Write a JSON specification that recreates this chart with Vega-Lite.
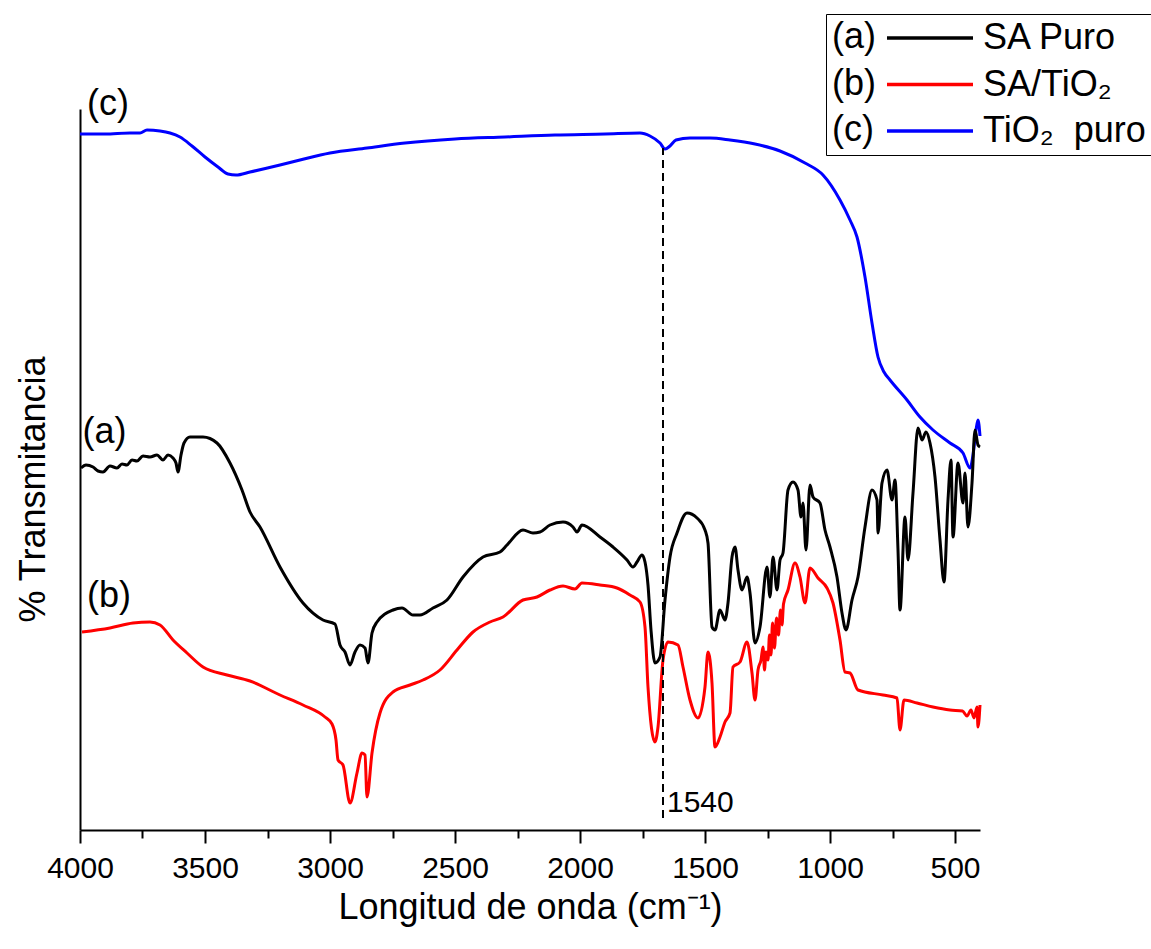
{
  "$schema": "https://vega.github.io/schema/vega-lite/v6.json",
  "width": 900,
  "height": 721,
  "autosize": {"type": "none"},
  "padding": {"left": 80, "top": 109, "right": 171, "bottom": 119},
  "background": "white",
  "config": {
    "view": {"stroke": null},
    "font": "Liberation Sans",
    "text": {"font": "Liberation Sans"}
  },
  "datasets": {
    "spectra": [
      {"serie": "TiO₂  puro", "wn": 4000, "t": 696},
      {"serie": "TiO₂  puro", "wn": 3900, "t": 696},
      {"serie": "TiO₂  puro", "wn": 3800, "t": 697},
      {"serie": "TiO₂  puro", "wn": 3760, "t": 697},
      {"serie": "TiO₂  puro", "wn": 3732, "t": 700},
      {"serie": "TiO₂  puro", "wn": 3680, "t": 699},
      {"serie": "TiO₂  puro", "wn": 3640, "t": 697},
      {"serie": "TiO₂  puro", "wn": 3600, "t": 693},
      {"serie": "TiO₂  puro", "wn": 3552, "t": 684},
      {"serie": "TiO₂  puro", "wn": 3500, "t": 673},
      {"serie": "TiO₂  puro", "wn": 3448, "t": 663},
      {"serie": "TiO₂  puro", "wn": 3408, "t": 656},
      {"serie": "TiO₂  puro", "wn": 3376, "t": 655},
      {"serie": "TiO₂  puro", "wn": 3320, "t": 658},
      {"serie": "TiO₂  puro", "wn": 3200, "t": 665},
      {"serie": "TiO₂  puro", "wn": 3120, "t": 670},
      {"serie": "TiO₂  puro", "wn": 3000, "t": 677},
      {"serie": "TiO₂  puro", "wn": 2852, "t": 682},
      {"serie": "TiO₂  puro", "wn": 2700, "t": 687},
      {"serie": "TiO₂  puro", "wn": 2500, "t": 691},
      {"serie": "TiO₂  puro", "wn": 2300, "t": 693},
      {"serie": "TiO₂  puro", "wn": 2100, "t": 695},
      {"serie": "TiO₂  puro", "wn": 1900, "t": 696},
      {"serie": "TiO₂  puro", "wn": 1760, "t": 697},
      {"serie": "TiO₂  puro", "wn": 1720, "t": 694},
      {"serie": "TiO₂  puro", "wn": 1680, "t": 687},
      {"serie": "TiO₂  puro", "wn": 1660, "t": 681},
      {"serie": "TiO₂  puro", "wn": 1640, "t": 684},
      {"serie": "TiO₂  puro", "wn": 1616, "t": 690},
      {"serie": "TiO₂  puro", "wn": 1560, "t": 692},
      {"serie": "TiO₂  puro", "wn": 1480, "t": 692},
      {"serie": "TiO₂  puro", "wn": 1400, "t": 690},
      {"serie": "TiO₂  puro", "wn": 1300, "t": 686},
      {"serie": "TiO₂  puro", "wn": 1200, "t": 679},
      {"serie": "TiO₂  puro", "wn": 1100, "t": 667},
      {"serie": "TiO₂  puro", "wn": 1028, "t": 655},
      {"serie": "TiO₂  puro", "wn": 960, "t": 630},
      {"serie": "TiO₂  puro", "wn": 920, "t": 610},
      {"serie": "TiO₂  puro", "wn": 892, "t": 593},
      {"serie": "TiO₂  puro", "wn": 860, "t": 553},
      {"serie": "TiO₂  puro", "wn": 832, "t": 507},
      {"serie": "TiO₂  puro", "wn": 808, "t": 473},
      {"serie": "TiO₂  puro", "wn": 784, "t": 458},
      {"serie": "TiO₂  puro", "wn": 760, "t": 450},
      {"serie": "TiO₂  puro", "wn": 692, "t": 430},
      {"serie": "TiO₂  puro", "wn": 640, "t": 413},
      {"serie": "TiO₂  puro", "wn": 588, "t": 400},
      {"serie": "TiO₂  puro", "wn": 520, "t": 387},
      {"serie": "TiO₂  puro", "wn": 468, "t": 377},
      {"serie": "TiO₂  puro", "wn": 440, "t": 362},
      {"serie": "TiO₂  puro", "wn": 428, "t": 375},
      {"serie": "TiO₂  puro", "wn": 416, "t": 400},
      {"serie": "TiO₂  puro", "wn": 408, "t": 410},
      {"serie": "TiO₂  puro", "wn": 400, "t": 394},

      {"serie": "SA Puro", "wn": 3996, "t": 362},
      {"serie": "SA Puro", "wn": 3976, "t": 365},
      {"serie": "SA Puro", "wn": 3948, "t": 363},
      {"serie": "SA Puro", "wn": 3928, "t": 359},
      {"serie": "SA Puro", "wn": 3908, "t": 358},
      {"serie": "SA Puro", "wn": 3880, "t": 364},
      {"serie": "SA Puro", "wn": 3852, "t": 362},
      {"serie": "SA Puro", "wn": 3832, "t": 366},
      {"serie": "SA Puro", "wn": 3812, "t": 365},
      {"serie": "SA Puro", "wn": 3792, "t": 370},
      {"serie": "SA Puro", "wn": 3772, "t": 369},
      {"serie": "SA Puro", "wn": 3748, "t": 374},
      {"serie": "SA Puro", "wn": 3720, "t": 373},
      {"serie": "SA Puro", "wn": 3692, "t": 375},
      {"serie": "SA Puro", "wn": 3668, "t": 370},
      {"serie": "SA Puro", "wn": 3648, "t": 375},
      {"serie": "SA Puro", "wn": 3628, "t": 372},
      {"serie": "SA Puro", "wn": 3616, "t": 367},
      {"serie": "SA Puro", "wn": 3608, "t": 358},
      {"serie": "SA Puro", "wn": 3596, "t": 375},
      {"serie": "SA Puro", "wn": 3584, "t": 387},
      {"serie": "SA Puro", "wn": 3560, "t": 393},
      {"serie": "SA Puro", "wn": 3508, "t": 393},
      {"serie": "SA Puro", "wn": 3452, "t": 387},
      {"serie": "SA Puro", "wn": 3400, "t": 367},
      {"serie": "SA Puro", "wn": 3352, "t": 340},
      {"serie": "SA Puro", "wn": 3320, "t": 318},
      {"serie": "SA Puro", "wn": 3280, "t": 303},
      {"serie": "SA Puro", "wn": 3200, "t": 263},
      {"serie": "SA Puro", "wn": 3108, "t": 227},
      {"serie": "SA Puro", "wn": 3028, "t": 210},
      {"serie": "SA Puro", "wn": 2980, "t": 206},
      {"serie": "SA Puro", "wn": 2960, "t": 185},
      {"serie": "SA Puro", "wn": 2940, "t": 178},
      {"serie": "SA Puro", "wn": 2920, "t": 165},
      {"serie": "SA Puro", "wn": 2900, "t": 178},
      {"serie": "SA Puro", "wn": 2880, "t": 185},
      {"serie": "SA Puro", "wn": 2860, "t": 182},
      {"serie": "SA Puro", "wn": 2848, "t": 167},
      {"serie": "SA Puro", "wn": 2832, "t": 197},
      {"serie": "SA Puro", "wn": 2812, "t": 208},
      {"serie": "SA Puro", "wn": 2748, "t": 220},
      {"serie": "SA Puro", "wn": 2712, "t": 222},
      {"serie": "SA Puro", "wn": 2668, "t": 215},
      {"serie": "SA Puro", "wn": 2640, "t": 215},
      {"serie": "SA Puro", "wn": 2588, "t": 222},
      {"serie": "SA Puro", "wn": 2532, "t": 230},
      {"serie": "SA Puro", "wn": 2468, "t": 253},
      {"serie": "SA Puro", "wn": 2388, "t": 273},
      {"serie": "SA Puro", "wn": 2320, "t": 278},
      {"serie": "SA Puro", "wn": 2292, "t": 285},
      {"serie": "SA Puro", "wn": 2228, "t": 300},
      {"serie": "SA Puro", "wn": 2188, "t": 297},
      {"serie": "SA Puro", "wn": 2160, "t": 298},
      {"serie": "SA Puro", "wn": 2120, "t": 305},
      {"serie": "SA Puro", "wn": 2068, "t": 308},
      {"serie": "SA Puro", "wn": 2028, "t": 303},
      {"serie": "SA Puro", "wn": 2012, "t": 298},
      {"serie": "SA Puro", "wn": 1992, "t": 305},
      {"serie": "SA Puro", "wn": 1920, "t": 293},
      {"serie": "SA Puro", "wn": 1868, "t": 283},
      {"serie": "SA Puro", "wn": 1812, "t": 270},
      {"serie": "SA Puro", "wn": 1788, "t": 263},
      {"serie": "SA Puro", "wn": 1772, "t": 268},
      {"serie": "SA Puro", "wn": 1752, "t": 275},
      {"serie": "SA Puro", "wn": 1740, "t": 268},
      {"serie": "SA Puro", "wn": 1728, "t": 245},
      {"serie": "SA Puro", "wn": 1716, "t": 200},
      {"serie": "SA Puro", "wn": 1700, "t": 167},
      {"serie": "SA Puro", "wn": 1680, "t": 173},
      {"serie": "SA Puro", "wn": 1660, "t": 230},
      {"serie": "SA Puro", "wn": 1640, "t": 273},
      {"serie": "SA Puro", "wn": 1612, "t": 297},
      {"serie": "SA Puro", "wn": 1572, "t": 317},
      {"serie": "SA Puro", "wn": 1532, "t": 312},
      {"serie": "SA Puro", "wn": 1500, "t": 300},
      {"serie": "SA Puro", "wn": 1488, "t": 287},
      {"serie": "SA Puro", "wn": 1472, "t": 203},
      {"serie": "SA Puro", "wn": 1460, "t": 200},
      {"serie": "SA Puro", "wn": 1440, "t": 220},
      {"serie": "SA Puro", "wn": 1420, "t": 210},
      {"serie": "SA Puro", "wn": 1408, "t": 227},
      {"serie": "SA Puro", "wn": 1392, "t": 273},
      {"serie": "SA Puro", "wn": 1380, "t": 283},
      {"serie": "SA Puro", "wn": 1368, "t": 260},
      {"serie": "SA Puro", "wn": 1352, "t": 240},
      {"serie": "SA Puro", "wn": 1332, "t": 253},
      {"serie": "SA Puro", "wn": 1320, "t": 237},
      {"serie": "SA Puro", "wn": 1300, "t": 187},
      {"serie": "SA Puro", "wn": 1280, "t": 203},
      {"serie": "SA Puro", "wn": 1252, "t": 263},
      {"serie": "SA Puro", "wn": 1240, "t": 233},
      {"serie": "SA Puro", "wn": 1228, "t": 273},
      {"serie": "SA Puro", "wn": 1212, "t": 240},
      {"serie": "SA Puro", "wn": 1200, "t": 270},
      {"serie": "SA Puro", "wn": 1188, "t": 277},
      {"serie": "SA Puro", "wn": 1168, "t": 340},
      {"serie": "SA Puro", "wn": 1148, "t": 348},
      {"serie": "SA Puro", "wn": 1128, "t": 340},
      {"serie": "SA Puro", "wn": 1116, "t": 313},
      {"serie": "SA Puro", "wn": 1108, "t": 327},
      {"serie": "SA Puro", "wn": 1096, "t": 280},
      {"serie": "SA Puro", "wn": 1080, "t": 345},
      {"serie": "SA Puro", "wn": 1068, "t": 333},
      {"serie": "SA Puro", "wn": 1040, "t": 327},
      {"serie": "SA Puro", "wn": 1020, "t": 300},
      {"serie": "SA Puro", "wn": 1000, "t": 283},
      {"serie": "SA Puro", "wn": 972, "t": 253},
      {"serie": "SA Puro", "wn": 952, "t": 217},
      {"serie": "SA Puro", "wn": 936, "t": 200},
      {"serie": "SA Puro", "wn": 912, "t": 230},
      {"serie": "SA Puro", "wn": 888, "t": 253},
      {"serie": "SA Puro", "wn": 860, "t": 303},
      {"serie": "SA Puro", "wn": 832, "t": 340},
      {"serie": "SA Puro", "wn": 812, "t": 330},
      {"serie": "SA Puro", "wn": 808, "t": 297},
      {"serie": "SA Puro", "wn": 792, "t": 347},
      {"serie": "SA Puro", "wn": 772, "t": 360},
      {"serie": "SA Puro", "wn": 752, "t": 330},
      {"serie": "SA Puro", "wn": 740, "t": 350},
      {"serie": "SA Puro", "wn": 728, "t": 280},
      {"serie": "SA Puro", "wn": 720, "t": 220},
      {"serie": "SA Puro", "wn": 700, "t": 313},
      {"serie": "SA Puro", "wn": 688, "t": 270},
      {"serie": "SA Puro", "wn": 668, "t": 337},
      {"serie": "SA Puro", "wn": 648, "t": 402},
      {"serie": "SA Puro", "wn": 632, "t": 390},
      {"serie": "SA Puro", "wn": 616, "t": 398},
      {"serie": "SA Puro", "wn": 600, "t": 387},
      {"serie": "SA Puro", "wn": 580, "t": 353},
      {"serie": "SA Puro", "wn": 560, "t": 290},
      {"serie": "SA Puro", "wn": 544, "t": 248},
      {"serie": "SA Puro", "wn": 528, "t": 330},
      {"serie": "SA Puro", "wn": 516, "t": 370},
      {"serie": "SA Puro", "wn": 508, "t": 293},
      {"serie": "SA Puro", "wn": 488, "t": 367},
      {"serie": "SA Puro", "wn": 468, "t": 327},
      {"serie": "SA Puro", "wn": 460, "t": 357},
      {"serie": "SA Puro", "wn": 448, "t": 303},
      {"serie": "SA Puro", "wn": 432, "t": 347},
      {"serie": "SA Puro", "wn": 420, "t": 400},
      {"serie": "SA Puro", "wn": 408, "t": 385},
      {"serie": "SA Puro", "wn": 400, "t": 383},

      {"serie": "SA/TiO₂", "wn": 3992, "t": 198},
      {"serie": "SA/TiO₂", "wn": 3880, "t": 202},
      {"serie": "SA/TiO₂", "wn": 3788, "t": 207},
      {"serie": "SA/TiO₂", "wn": 3720, "t": 208},
      {"serie": "SA/TiO₂", "wn": 3680, "t": 205},
      {"serie": "SA/TiO₂", "wn": 3628, "t": 190},
      {"serie": "SA/TiO₂", "wn": 3572, "t": 177},
      {"serie": "SA/TiO₂", "wn": 3508, "t": 163},
      {"serie": "SA/TiO₂", "wn": 3412, "t": 155},
      {"serie": "SA/TiO₂", "wn": 3320, "t": 149},
      {"serie": "SA/TiO₂", "wn": 3200, "t": 135},
      {"serie": "SA/TiO₂", "wn": 3108, "t": 125},
      {"serie": "SA/TiO₂", "wn": 3020, "t": 113},
      {"serie": "SA/TiO₂", "wn": 2992, "t": 106},
      {"serie": "SA/TiO₂", "wn": 2976, "t": 90},
      {"serie": "SA/TiO₂", "wn": 2968, "t": 70},
      {"serie": "SA/TiO₂", "wn": 2948, "t": 65},
      {"serie": "SA/TiO₂", "wn": 2920, "t": 27},
      {"serie": "SA/TiO₂", "wn": 2892, "t": 57},
      {"serie": "SA/TiO₂", "wn": 2872, "t": 77},
      {"serie": "SA/TiO₂", "wn": 2860, "t": 75},
      {"serie": "SA/TiO₂", "wn": 2852, "t": 33},
      {"serie": "SA/TiO₂", "wn": 2832, "t": 77},
      {"serie": "SA/TiO₂", "wn": 2800, "t": 117},
      {"serie": "SA/TiO₂", "wn": 2748, "t": 138},
      {"serie": "SA/TiO₂", "wn": 2680, "t": 145},
      {"serie": "SA/TiO₂", "wn": 2628, "t": 150},
      {"serie": "SA/TiO₂", "wn": 2560, "t": 160},
      {"serie": "SA/TiO₂", "wn": 2492, "t": 180},
      {"serie": "SA/TiO₂", "wn": 2428, "t": 198},
      {"serie": "SA/TiO₂", "wn": 2360, "t": 208},
      {"serie": "SA/TiO₂", "wn": 2308, "t": 213},
      {"serie": "SA/TiO₂", "wn": 2228, "t": 230},
      {"serie": "SA/TiO₂", "wn": 2172, "t": 233},
      {"serie": "SA/TiO₂", "wn": 2120, "t": 240},
      {"serie": "SA/TiO₂", "wn": 2068, "t": 244},
      {"serie": "SA/TiO₂", "wn": 2020, "t": 241},
      {"serie": "SA/TiO₂", "wn": 1992, "t": 247},
      {"serie": "SA/TiO₂", "wn": 1920, "t": 245},
      {"serie": "SA/TiO₂", "wn": 1852, "t": 242},
      {"serie": "SA/TiO₂", "wn": 1800, "t": 235},
      {"serie": "SA/TiO₂", "wn": 1760, "t": 228},
      {"serie": "SA/TiO₂", "wn": 1740, "t": 203},
      {"serie": "SA/TiO₂", "wn": 1728, "t": 143},
      {"serie": "SA/TiO₂", "wn": 1700, "t": 88},
      {"serie": "SA/TiO₂", "wn": 1688, "t": 103},
      {"serie": "SA/TiO₂", "wn": 1668, "t": 170},
      {"serie": "SA/TiO₂", "wn": 1648, "t": 188},
      {"serie": "SA/TiO₂", "wn": 1608, "t": 185},
      {"serie": "SA/TiO₂", "wn": 1588, "t": 163},
      {"serie": "SA/TiO₂", "wn": 1560, "t": 130},
      {"serie": "SA/TiO₂", "wn": 1528, "t": 112},
      {"serie": "SA/TiO₂", "wn": 1500, "t": 143},
      {"serie": "SA/TiO₂", "wn": 1488, "t": 178},
      {"serie": "SA/TiO₂", "wn": 1472, "t": 147},
      {"serie": "SA/TiO₂", "wn": 1460, "t": 83},
      {"serie": "SA/TiO₂", "wn": 1440, "t": 93},
      {"serie": "SA/TiO₂", "wn": 1420, "t": 108},
      {"serie": "SA/TiO₂", "wn": 1400, "t": 117},
      {"serie": "SA/TiO₂", "wn": 1388, "t": 163},
      {"serie": "SA/TiO₂", "wn": 1360, "t": 168},
      {"serie": "SA/TiO₂", "wn": 1332, "t": 188},
      {"serie": "SA/TiO₂", "wn": 1312, "t": 157},
      {"serie": "SA/TiO₂", "wn": 1300, "t": 130},
      {"serie": "SA/TiO₂", "wn": 1288, "t": 160},
      {"serie": "SA/TiO₂", "wn": 1276, "t": 170},
      {"serie": "SA/TiO₂", "wn": 1268, "t": 183},
      {"serie": "SA/TiO₂", "wn": 1262, "t": 160},
      {"serie": "SA/TiO₂", "wn": 1256, "t": 178},
      {"serie": "SA/TiO₂", "wn": 1248, "t": 170},
      {"serie": "SA/TiO₂", "wn": 1242, "t": 195},
      {"serie": "SA/TiO₂", "wn": 1236, "t": 175},
      {"serie": "SA/TiO₂", "wn": 1230, "t": 207},
      {"serie": "SA/TiO₂", "wn": 1222, "t": 182},
      {"serie": "SA/TiO₂", "wn": 1214, "t": 212},
      {"serie": "SA/TiO₂", "wn": 1206, "t": 195},
      {"serie": "SA/TiO₂", "wn": 1198, "t": 220},
      {"serie": "SA/TiO₂", "wn": 1192, "t": 205},
      {"serie": "SA/TiO₂", "wn": 1186, "t": 226},
      {"serie": "SA/TiO₂", "wn": 1168, "t": 240},
      {"serie": "SA/TiO₂", "wn": 1140, "t": 267},
      {"serie": "SA/TiO₂", "wn": 1120, "t": 253},
      {"serie": "SA/TiO₂", "wn": 1100, "t": 227},
      {"serie": "SA/TiO₂", "wn": 1080, "t": 262},
      {"serie": "SA/TiO₂", "wn": 1048, "t": 252},
      {"serie": "SA/TiO₂", "wn": 1012, "t": 242},
      {"serie": "SA/TiO₂", "wn": 988, "t": 227},
      {"serie": "SA/TiO₂", "wn": 960, "t": 190},
      {"serie": "SA/TiO₂", "wn": 940, "t": 158},
      {"serie": "SA/TiO₂", "wn": 920, "t": 157},
      {"serie": "SA/TiO₂", "wn": 888, "t": 140},
      {"serie": "SA/TiO₂", "wn": 788, "t": 135},
      {"serie": "SA/TiO₂", "wn": 732, "t": 132},
      {"serie": "SA/TiO₂", "wn": 720, "t": 100},
      {"serie": "SA/TiO₂", "wn": 704, "t": 130},
      {"serie": "SA/TiO₂", "wn": 652, "t": 127},
      {"serie": "SA/TiO₂", "wn": 588, "t": 123},
      {"serie": "SA/TiO₂", "wn": 520, "t": 120},
      {"serie": "SA/TiO₂", "wn": 470, "t": 119},
      {"serie": "SA/TiO₂", "wn": 452, "t": 114},
      {"serie": "SA/TiO₂", "wn": 436, "t": 120},
      {"serie": "SA/TiO₂", "wn": 424, "t": 112},
      {"serie": "SA/TiO₂", "wn": 412, "t": 123},
      {"serie": "SA/TiO₂", "wn": 408, "t": 103},
      {"serie": "SA/TiO₂", "wn": 400, "t": 125}
    ],
    "notes": [
      {"wn": 3972, "t": 715, "txt": "(c)"},
      {"wn": 3990, "t": 387, "txt": "(a)"},
      {"wn": 3972, "t": 223, "txt": "(b)"}
    ],
    "marker": [
      {"wn": 1668, "t0": 12, "t1": 682, "txt": "1540", "tx": 1652, "ty": 18}
    ]
  },
  "layer": [
    {
      "data": {"name": "spectra"},
      "mark": {"type": "line", "strokeWidth": 3, "interpolate": "monotone"},
      "encoding": {
        "x": {
          "field": "wn",
          "type": "quantitative",
          "scale": {"domain": [4000, 400], "nice": false, "zero": false},
          "axis": {
            "values": [4000, 3750, 3500, 3250, 3000, 2750, 2500, 2250, 2000, 1750, 1500, 1250, 1000, 750, 500],
            "format": "d",
            "labelExpr": "datum.value % 500 === 0 ? datum.label : ''",
            "tickSize": {"condition": {"test": "datum.value % 500 === 0", "value": 13}, "value": 8},
            "tickWidth": 2,
            "tickColor": "black",
            "domainColor": "black",
            "domainWidth": 2,
            "grid": false,
            "labelFontSize": 30,
            "labelColor": "black",
            "labelFont": "Liberation Sans",
            "labelPadding": 10,
            "labelFlush": false,
            "labelOverlap": false,
            "title": "Longitud de onda (cm⁻¹)",
            "titleFont": "Liberation Sans",
            "titleFontSize": 36,
            "titleFontWeight": "normal",
            "titleColor": "black",
            "titlePadding": 7
          }
        },
        "y": {
          "field": "t",
          "type": "quantitative",
          "scale": {"domain": [0, 721], "nice": false, "zero": false},
          "axis": {
            "labels": false,
            "ticks": false,
            "grid": false,
            "domainColor": "black",
            "domainWidth": 2,
            "title": "% Transmitancia",
            "titleFont": "Liberation Sans",
            "titleFontSize": 36,
            "titleFontWeight": "normal",
            "titleColor": "black",
            "titlePadding": 28,
            "titleY": 380
          }
        },
        "color": {
          "field": "serie",
          "type": "nominal",
          "scale": {"domain": ["SA Puro", "SA/TiO₂", "TiO₂  puro"], "range": ["#000000", "#ff0000", "#0000ff"]},
          "legend": {
            "orient": "none",
            "legendX": 746,
            "legendY": -95,
            "title": ["(a)", "(b)", "(c)"],
            "titleOrient": "left",
            "titleAnchor": "start",
            "titleBaseline": "top",
            "titleFont": "Liberation Sans",
            "titleFontSize": 36,
            "titleFontWeight": "normal",
            "titleColor": "black",
            "titleLineHeight": 46.5,
            "titlePadding": 11,
            "symbolType": "M -3.6 0 L 13.6 0",
            "symbolSize": 100,
            "symbolStrokeWidth": 3.5,
            "labelFont": "Liberation Sans",
            "labelFontSize": 36,
            "labelColor": "black",
            "labelOffset": 60,
            "labelLimit": 0,
            "labelExpr": "datum.label == 'TiO₂  puro' ? 'TiO₂\u00a0\u00a0puro' : datum.label",
            "rowPadding": 10.5,
            "strokeColor": "black",
            "fillColor": "white",
            "padding": 6,
            "cornerRadius": 0
          }
        }
      }
    },
    {
      "data": {"name": "marker"},
      "mark": {"type": "rule", "strokeDash": [8, 5], "strokeWidth": 2, "color": "black"},
      "encoding": {
        "x": {"field": "wn", "type": "quantitative"},
        "y": {"field": "t0", "type": "quantitative"},
        "y2": {"field": "t1"}
      }
    },
    {
      "data": {"name": "marker"},
      "mark": {"type": "text", "align": "left", "baseline": "alphabetic", "fontSize": 30, "color": "black", "font": "Liberation Sans"},
      "encoding": {
        "x": {"field": "tx", "type": "quantitative"},
        "y": {"field": "ty", "type": "quantitative"},
        "text": {"field": "txt"}
      }
    },
    {
      "data": {"name": "notes"},
      "mark": {"type": "text", "align": "left", "baseline": "alphabetic", "fontSize": 36, "color": "black", "font": "Liberation Sans"},
      "encoding": {
        "x": {"field": "wn", "type": "quantitative"},
        "y": {"field": "t", "type": "quantitative"},
        "text": {"field": "txt"}
      }
    }
  ]
}
